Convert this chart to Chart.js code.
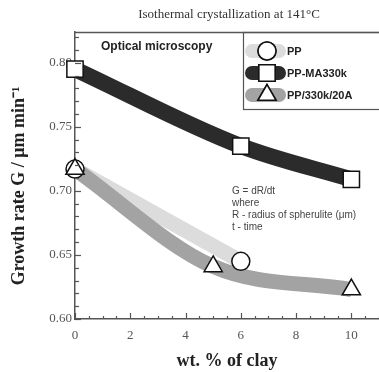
<!DOCTYPE html>
<html>
<head>
<meta charset="utf-8">
<script src="https://cdn.jsdelivr.net/npm/chart.js@4.4.0/dist/chart.umd.min.js"></script>
<style>
  html, body { margin: 0; padding: 0; background: #fff; }
  #wrap { width: 379px; height: 372px; }
</style>
</head>
<body>
<div id="wrap"><canvas id="growthChart" width="379" height="372"></canvas></div>
<script>
// values
var ppX = [0, 6];
var ppY = [0.717, 0.645];
var maX = [0, 6, 10];
var maY = [0.795, 0.735, 0.709];
var clayX = [0, 5, 10];
var clayY = [0.717, 0.641, 0.623];

var xTicks = [0, 2, 4, 6, 8, 10];
var yTicks = [0.60, 0.65, 0.70, 0.75, 0.80];

var seriesNames = ['PP', 'PP-MA330k', 'PP/330k/20A'];
var noteLines = ['G = dR/dt', 'where', 'R - radius of spherulite (\u03bcm)', 't - time'];

function pts(xs, ys) {
  return xs.map(function (x, i) { return { x: x, y: ys[i] }; });
}

var bandColors = ['#dcdcdc', '#2b2b2b', '#a3a3a3'];
var markerShapes = ['circle', 'rect', 'triangle'];
var markerRadius = [9, 11.5, 10.5];

// inward ticks, frame top line, legend and notes
var decorPlugin = {
  id: 'decor',
  afterDraw: function (chart) {
    var ctx = chart.ctx;
    var xs = chart.scales.x, ys = chart.scales.y;
    var a = chart.chartArea;
    ctx.save();
    ctx.strokeStyle = '#555';
    ctx.lineWidth = 1.2;
    // y ticks
    for (var v = 0.60; v <= 0.8201; v += 0.01) {
      var py = Math.round(ys.getPixelForValue(v)) + 0.5;
      var major = yTicks.some(function (t) { return Math.abs(t - v) < 1e-6; });
      ctx.beginPath();
      ctx.moveTo(a.left, py);
      ctx.lineTo(a.left + (major ? 6 : 4), py);
      ctx.stroke();
    }
    // x ticks
    for (var u = 0; u <= 11; u += 0.5) {
      var px = Math.round(xs.getPixelForValue(u)) + 0.5;
      var majorX = xTicks.indexOf(u) >= 0;
      ctx.beginPath();
      ctx.moveTo(px, a.bottom);
      ctx.lineTo(px, a.bottom - (majorX ? 6 : 3));
      ctx.stroke();
    }
    // top frame line
    ctx.lineWidth = 1.5;
    ctx.beginPath();
    ctx.moveTo(a.left, a.top + 0.5);
    ctx.lineTo(379, a.top + 0.5);
    ctx.stroke();

    // title
    ctx.fillStyle = '#333';
    ctx.font = '13px "Liberation Serif", serif';
    ctx.textAlign = 'center';
    ctx.textBaseline = 'middle';
    ctx.fillText('Isothermal crystallization at 141\u00b0C', 229, 15);

    // y axis title
    ctx.save();
    ctx.translate(19, 186);
    ctx.rotate(-Math.PI / 2);
    ctx.fillStyle = '#222';
    ctx.font = 'bold 18px "Liberation Serif", serif';
    ctx.fillText('Growth rate G / \u03bcm min\u207b\u00b9', 0, 0);
    ctx.restore();

    // Optical microscopy
    ctx.fillStyle = '#222';
    ctx.font = 'bold 12px "Liberation Sans", Arial, sans-serif';
    ctx.textAlign = 'left';
    ctx.fillText('Optical microscopy', 101, 47);

    // note
    ctx.fillStyle = '#444';
    ctx.font = '10px "Liberation Sans", Arial, sans-serif';
    noteLines.forEach(function (t, i) {
      ctx.fillText(t, 232, 191 + i * 12);
    });

    // legend box
    ctx.strokeStyle = '#555';
    ctx.lineWidth = 1.2;
    ctx.strokeRect(243.5, a.top + 0.5, 140, 77);
    [0, 1, 2].forEach(function (i, k) {
      var cy = 51 + k * 22;
      ctx.strokeStyle = bandColors[i];
      ctx.lineWidth = 14;
      ctx.lineCap = 'round';
      ctx.beginPath();
      ctx.moveTo(252, cy);
      ctx.lineTo(279, cy);
      ctx.stroke();
      ctx.lineCap = 'butt';
      ctx.lineWidth = 1.5;
      ctx.strokeStyle = '#111';
      ctx.fillStyle = '#fff';
      Chart.helpers.drawPoint(ctx, { pointStyle: markerShapes[i], radius: markerRadius[i], borderWidth: 1.5 }, 267, cy);
      ctx.fill();
      ctx.stroke();
      ctx.fillStyle = '#222';
      ctx.font = 'bold 11px "Liberation Sans", Arial, sans-serif';
      ctx.textBaseline = 'middle';
      ctx.fillText(seriesNames[i], 287, cy + 1);
    });
    ctx.restore();
  }
};

function band(xs, ys, idx, ord, opts) {
  var d = {
    data: pts(xs, ys),
    borderColor: bandColors[idx],
    borderWidth: 15,
    pointRadius: 0,
    fill: false,
    order: ord,
    clip: false
  };
  for (var k in opts) d[k] = opts[k];
  return d;
}

function markers(xs, ys, idx, ord) {
  return {
    data: pts(xs, ys),
    showLine: false,
    pointStyle: markerShapes[idx],
    pointRadius: markerRadius[idx],
    pointBackgroundColor: '#fff',
    pointBorderColor: '#111',
    pointBorderWidth: 1.5,
    order: ord,
    clip: false
  };
}

var ctx = document.getElementById('growthChart').getContext('2d');
new Chart(ctx, {
  type: 'line',
  data: {
    datasets: [
      band(ppX, ppY, 0, 6, { tension: 0.3 }),
      band(clayX, clayY, 2, 5, { cubicInterpolationMode: 'monotone' }),
      band(maX, maY, 1, 4, { cubicInterpolationMode: 'monotone', borderWidth: 16 }),
      markers(ppX, ppY, 0, 3),
      markers(maX, maY, 1, 2),
      markers(clayX, clayY, 2, 1)
    ]
  },
  options: {
    responsive: false,
    animation: false,
    devicePixelRatio: 1,
    layout: { autoPadding: false, padding: { top: 32, left: 0, right: 0, bottom: 0 } },
    plugins: {
      legend: { display: false },
      tooltip: { enabled: false }
    },
    scales: {
      x: {
        type: 'linear',
        min: 0,
        max: 11,
        afterBuildTicks: function (s) { s.ticks = xTicks.map(function (v) { return { value: v }; }); },
        afterFit: function (s) { s.height = 53; s.paddingLeft = 0; s.paddingRight = 0; },
        grid: { display: false, drawTicks: false },
        border: { display: true, color: '#555', width: 1.5 },
        ticks: {
          padding: 9,
          color: '#555',
          font: { family: '"Liberation Serif", serif', size: 13 }
        },
        title: {
          display: true,
          text: 'wt. % of clay',
          color: '#222',
          font: { family: '"Liberation Serif", serif', size: 18, weight: 'bold' },
          padding: { top: 0, bottom: 0 }
        }
      },
      y: {
        type: 'linear',
        min: 0.60,
        max: 0.824,
        afterBuildTicks: function (s) { s.ticks = yTicks.map(function (v) { return { value: v }; }); },
        afterFit: function (s) { s.width = 75; s.paddingTop = 0; s.paddingBottom = 0; },
        grid: { display: false, drawTicks: false },
        border: { display: true, color: '#555', width: 1.5 },
        ticks: {
          padding: 3,
          color: '#555',
          font: { family: '"Liberation Serif", serif', size: 13 },
          callback: function (v) { return Number(v).toFixed(2); }
        },
        title: { display: false }
      }
    }
  },
  plugins: [decorPlugin]
});
</script>
</body>
</html>
